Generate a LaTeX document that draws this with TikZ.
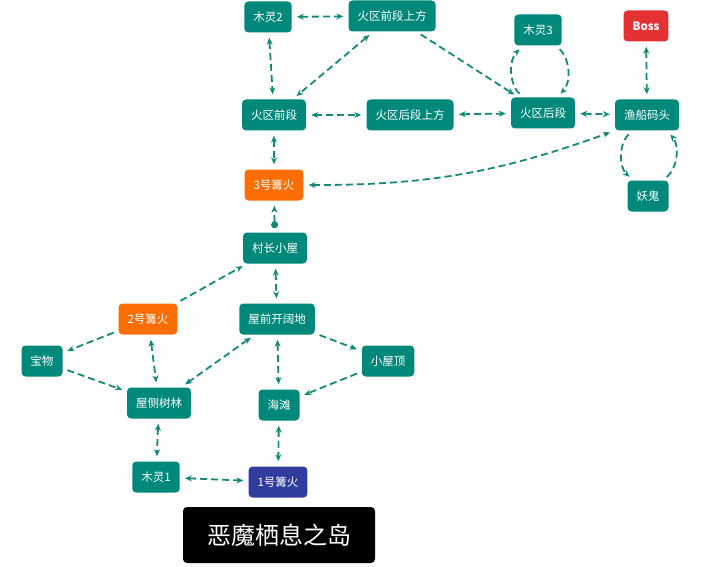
\documentclass[tikz,border=0pt]{standalone}
\usepackage{fontspec}
\setmainfont{Noto Sans CJK SC}
\usetikzlibrary{arrows.meta}
\definecolor{roomgreen}{RGB}{0,137,122}
\definecolor{linkgreen}{RGB}{20,138,118}
\definecolor{fireorange}{RGB}{252,110,4}
\definecolor{bossred}{RGB}{228,50,52}
\definecolor{fireblue}{RGB}{48,60,158}
\tikzset{
	room/.style={fill=roomgreen, text=white, rounded corners=4pt, minimum height=31pt, inner xsep=9pt, font=\fontsize{11.5}{13}\selectfont},
	fire/.style={room, fill=fireorange},
	firstfire/.style={room, fill=fireblue},
	bossroom/.style={room, fill=bossred, font=\fontsize{11.5}{13}\selectfont\bfseries},
	link/.style={draw=linkgreen, line width=1.8pt, dash pattern=on 7pt off 4pt, shorten >=5pt, shorten <=5pt},
	both/.style={link, {Stealth[length=7pt,width=6pt]}-{Stealth[length=7pt,width=6pt]}},
	oneway/.style={link, -{Stealth[length=7pt,width=6pt]}},
	dotlink/.style={link, {Circle[length=7pt]}-{Stealth[length=7pt,width=6pt]}, shorten <=4pt},
}
\begin{document}
\begin{tikzpicture}[x=1pt, y=-1pt]
		%%%%% START %%%%%
		\useasboundingbox (0, 0) rectangle (720, 567);
		
		\node[room] (mulinger) at (268, 17) {木灵2};
		\node[room] (huoqianshang) at (392, 16) {火区前段上方};
		\node[room] (mulingsan) at (538, 30) {木灵3};
		\node[bossroom] (boss) at (646, 26) {Boss};
		
		\node[room] (huoqian) at (274, 115) {火区前段};
		\node[room] (huohoushang) at (410, 115) {火区后段上方};
		\node[room] (huohou) at (543, 113) {火区后段};
		\node[room] (yuchuan) at (647, 115) {渔船码头};
		\node[room] (yaogui) at (648, 196) {妖鬼};
		
		\node[fire] (gouhuosan) at (274, 185) {3号篝火};
		\node[room] (cunzhang) at (275, 248) {村长小屋};
		
		\node[fire] (gouhuoer) at (148, 319) {2号篝火};
		\node[room] (kaikuo) at (277, 319) {屋前开阔地};
		\node[room] (baowu) at (42, 361) {宝物};
		\node[room] (xiaowuding) at (388, 361) {小屋顶};
		\node[room] (shulin) at (159, 403) {屋侧树林};
		\node[room] (haitan) at (279, 405) {海滩};
		
		\node[room] (mulingyi) at (156, 477) {木灵1};
		\node[firstfire] (gouhuoyi) at (278, 482) {1号篝火};
		
		\node[fill=black, text=white, rounded corners=4pt, minimum width=192pt, minimum height=56pt, font=\fontsize{24}{28}\selectfont] (title) at (279, 535) {恶魔栖息之岛};
		
		% fire zone
		\draw[both] (mulinger) -- (huoqianshang);
		\draw[both] (mulinger) -- (huoqian);
		\draw[both] (huoqianshang) -- (huoqian);
		\draw[oneway] (huoqianshang) -- (huohou);
		\draw[both] (huoqian) -- (huohoushang);
		\draw[both] (huohoushang) -- (huohou);
		\draw[oneway] ([xshift=-20pt]huohou.north) to[bend left=45] ([xshift=-15pt]mulingsan.south);
		\draw[oneway] ([xshift=18pt]mulingsan.south) to[bend left=45] ([xshift=14pt]huohou.north);
		\draw[both] (huohou) -- (yuchuan);
		\draw[both] (boss) -- (yuchuan);
		\draw[oneway] ([xshift=-15pt]yuchuan.south) to[bend right=45] ([xshift=-15pt]yaogui.north);
		\draw[oneway] ([xshift=15pt]yaogui.north) to[bend right=45] ([xshift=20pt]yuchuan.south);
		\draw[both] (gouhuosan.east) to[bend right=10] (yuchuan.south west);
		\draw[both] (huoqian) -- (gouhuosan);
		\draw[dotlink] (cunzhang) -- (gouhuosan);
		
		% village
		\draw[oneway] (gouhuoer) -- (cunzhang);
		\draw[both] (cunzhang) -- (kaikuo);
		\draw[oneway] (gouhuoer) -- (baowu);
		\draw[both] (gouhuoer) -- (shulin);
		\draw[oneway] (baowu) -- (shulin);
		\draw[both] (kaikuo) -- (shulin);
		\draw[oneway] (kaikuo) -- (xiaowuding);
		\draw[both] (kaikuo) -- (haitan);
		\draw[oneway] (xiaowuding) -- (haitan);
		\draw[both] (shulin) -- (mulingyi);
		\draw[both] (haitan) -- (gouhuoyi);
		\draw[both] (mulingyi) -- (gouhuoyi);
		
		%%%%% END %%%%%
	\end{tikzpicture}
\end{document}
